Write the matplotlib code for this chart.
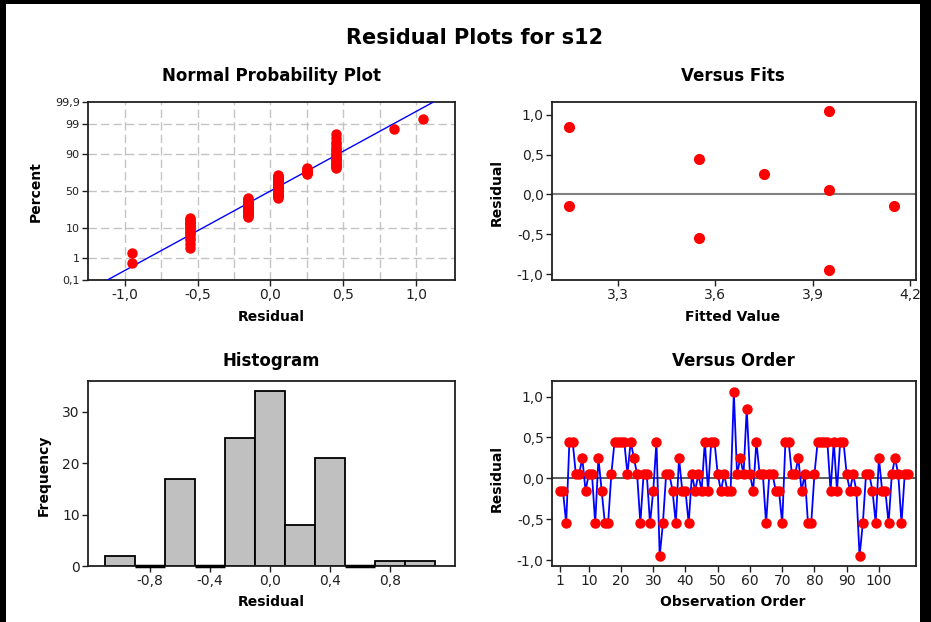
from statistics import NormalDist

import matplotlib

matplotlib.use("Agg")
import matplotlib.pyplot as plt
import numpy as np
from matplotlib.patches import Rectangle

# residuals of s12 in observation order
residuals = [
    -0.15, -0.15, -0.55, 0.45, 0.45, 0.05, 0.05, 0.25, -0.15, 0.05,
    0.05, -0.55, 0.25, -0.15, -0.55, -0.55, 0.05, 0.45, 0.45, 0.45,
    0.45, 0.05, 0.45, 0.25, 0.05, -0.55, 0.05, 0.05, -0.55, -0.15,
    0.45, -0.95, -0.55, 0.05, 0.05, -0.15, -0.55, 0.25, -0.15, -0.15,
    -0.55, 0.05, -0.15, 0.05, -0.15, 0.45, -0.15, 0.45, 0.45, 0.05,
    -0.15, 0.05, -0.15, -0.15, 1.05, 0.05, 0.25, 0.05, 0.85, 0.05,
    -0.15, 0.45, 0.05, 0.05, -0.55, 0.05, 0.05, -0.15, -0.15, -0.55,
    0.45, 0.45, 0.05, 0.05, 0.25, -0.15, 0.05, -0.55, -0.55, 0.05,
    0.45, 0.45, 0.45, 0.45, -0.15, 0.45, -0.15, 0.45, 0.45, 0.05,
    -0.15, 0.05, -0.15, -0.95, -0.55, 0.05, 0.05, -0.15, -0.55, 0.25,
    -0.15, -0.15, -0.55, 0.05, 0.25, 0.05, -0.55, 0.05, 0.05,
]

# distinct (fit, residual) pairs shown in the versus-fits panel
fitted_values = [3.15, 3.15, 3.55, 3.55, 3.75, 3.95, 3.95, 3.95, 4.15]
fitted_residuals = [0.85, -0.15, 0.45, -0.55, 0.25, 1.05, 0.05, -0.95, -0.15]

hist_edges = [-1.1, -0.9, -0.7, -0.5, -0.3, -0.1, 0.1, 0.3, 0.5, 0.7, 0.9, 1.1]

pct_ticks = [0.1, 1, 10, 50, 90, 99, 99.9]
pct_labels = ["0,1", "1", "10", "50", "90", "99", "99,9"]
npp_xticks = [-1.0, -0.5, 0.0, 0.5, 1.0]
npp_xlabels = ["-1,0", "-0,5", "0,0", "0,5", "1,0"]
fit_xticks = [3.3, 3.6, 3.9, 4.2]
fit_xlabels = ["3,3", "3,6", "3,9", "4,2"]
res_yticks = [-1.0, -0.5, 0.0, 0.5, 1.0]
res_ylabels = ["-1,0", "-0,5", "0,0", "0,5", "1,0"]
hist_xticks = [-0.8, -0.4, 0.0, 0.4, 0.8]
hist_xlabels = ["-0,8", "-0,4", "0,0", "0,4", "0,8"]
hist_yticks = [0, 10, 20, 30]
order_xticks = [1, 10, 20, 30, 40, 50, 60, 70, 80, 90, 100]

RED = "#ff0000"
BLUE = "#0000ff"
W, H = 931, 622


def fx(x):
    return x / W


def fy(y):
    return 1 - y / H


def make_axes(fig, left, top, right, bottom):
    ax = fig.add_axes([fx(left), fy(bottom), (right - left) / W, (bottom - top) / H])
    for side in ("top", "right", "bottom", "left"):
        ax.spines[side].set_linewidth(1.3)
        ax.spines[side].set_color("#202020")
    ax.tick_params(direction="out", length=4, width=1, labelsize=10, pad=2,
                   colors="#202020")
    return ax


def main() -> None:
    plt.rcParams["font.family"] = ["DejaVu Sans"]
    fig = plt.figure(figsize=(W / 100, H / 100), dpi=100)
    fig.patch.set_facecolor("white")

    res = np.array(residuals)
    n = len(res)
    nd = NormalDist()

    # window frame
    for rect in [(0, 0, 6, H), (0, 0, W, 4), (W - 11, 0, 11, H)]:
        x, y, w, h = rect
        fig.add_artist(Rectangle((fx(x), fy(y + h)), w / W, h / H,
                                 transform=fig.transFigure, color="black", lw=0))

    fig.text(fx(475), fy(38), "Residual Plots for s12", ha="center", va="center",
             fontsize=15, fontweight="bold")

    # normal probability plot
    ax = make_axes(fig, 88, 102, 455, 280)
    srt = np.sort(res)
    pct = (np.arange(1, n + 1) - 0.3) / (n + 0.4)
    z = [nd.inv_cdf(p) for p in pct]
    mu, sd = res.mean(), res.std(ddof=1)
    zl = np.array([nd.inv_cdf(0.001), nd.inv_cdf(0.999)])
    ax.plot(mu + sd * zl, zl, color=BLUE, lw=1, zorder=3)
    ax.plot(srt, z, "o", color=RED, ms=6.5, zorder=4)
    zt = [nd.inv_cdf(p / 100) for p in pct_ticks]
    ax.set_yticks(zt, pct_labels)
    ax.tick_params(axis="y", labelsize=8)
    ax.set_ylim(zt[0], zt[-1])
    ax.set_xticks(npp_xticks, npp_xlabels)
    ax.set_xlim(-1.252, 1.268)
    for v in zt[1:-1]:
        ax.axhline(v, color="#c4c4c4", lw=1, ls=(0, (6, 3)), zorder=1)
    for v in np.arange(-1.0, 1.01, 0.25):
        ax.axvline(v, color="#c4c4c4", lw=1, ls=(0, (6, 3)), zorder=1)
    fig.text(fx(271), fy(76), "Normal Probability Plot", ha="center", va="center",
             fontsize=12, fontweight="bold")
    fig.text(fx(271), fy(317), "Residual", ha="center", va="center",
             fontsize=10, fontweight="bold")
    fig.text(fx(36), fy(192), "Percent", ha="center", va="center", rotation=90,
             fontsize=10, fontweight="bold")

    # versus fits
    ax = make_axes(fig, 552, 102, 916, 280)
    ax.axhline(0, color="#808080", lw=1.5, zorder=1)
    ax.plot(fitted_values, fitted_residuals, "o", color=RED, ms=7, zorder=3)
    ax.set_xticks(fit_xticks, fit_xlabels)
    ax.set_yticks(res_yticks, res_ylabels)
    ax.set_xlim(3.097, 4.2175)
    ax.set_ylim(-1.075, 1.16)
    fig.text(fx(733), fy(76), "Versus Fits", ha="center", va="center",
             fontsize=12, fontweight="bold")
    fig.text(fx(733), fy(317), "Fitted Value", ha="center", va="center",
             fontsize=10, fontweight="bold")
    fig.text(fx(497), fy(192), "Residual", ha="center", va="center", rotation=90,
             fontsize=10, fontweight="bold")

    # histogram
    ax = make_axes(fig, 88, 381, 455, 566)
    ax.hist(res, bins=hist_edges, color="#c0c0c0", edgecolor="black", lw=1.3)
    counts, _ = np.histogram(res, bins=hist_edges)
    for left, right, c in zip(hist_edges[:-1], hist_edges[1:], counts):
        if c == 0:
            ax.plot([left, right], [0, 0], color="black", lw=2.5, zorder=5,
                    clip_on=False, solid_capstyle="butt")
    ax.set_xticks(hist_xticks, hist_xlabels)
    ax.set_yticks(hist_yticks)
    ax.set_xlim(-1.21, 1.23)
    ax.set_ylim(0, 36)
    fig.text(fx(271), fy(361), "Histogram", ha="center", va="center",
             fontsize=12, fontweight="bold")
    fig.text(fx(271), fy(602), "Residual", ha="center", va="center",
             fontsize=10, fontweight="bold")
    fig.text(fx(44), fy(475), "Frequency", ha="center", va="center", rotation=90,
             fontsize=10, fontweight="bold")

    # versus order
    ax = make_axes(fig, 552, 381, 916, 566)
    obs = np.arange(1, n + 1)
    ax.axhline(0, color="#404040", lw=1.2, zorder=1)
    ax.plot(obs, res, color=BLUE, lw=1.3, marker="o", ms=6.5, mfc=RED, mec=RED,
            zorder=3)
    ax.set_xticks(order_xticks)
    ax.set_yticks(res_yticks, res_ylabels)
    ax.set_xlim(-1.4, 111.5)
    ax.set_ylim(-1.07, 1.19)
    fig.text(fx(733), fy(361), "Versus Order", ha="center", va="center",
             fontsize=12, fontweight="bold")
    fig.text(fx(733), fy(602), "Observation Order", ha="center", va="center",
             fontsize=10, fontweight="bold")
    fig.text(fx(497), fy(478), "Residual", ha="center", va="center", rotation=90,
             fontsize=10, fontweight="bold")

    fig.savefig("out.png", dpi=100)


if __name__ == "__main__":
    main()
